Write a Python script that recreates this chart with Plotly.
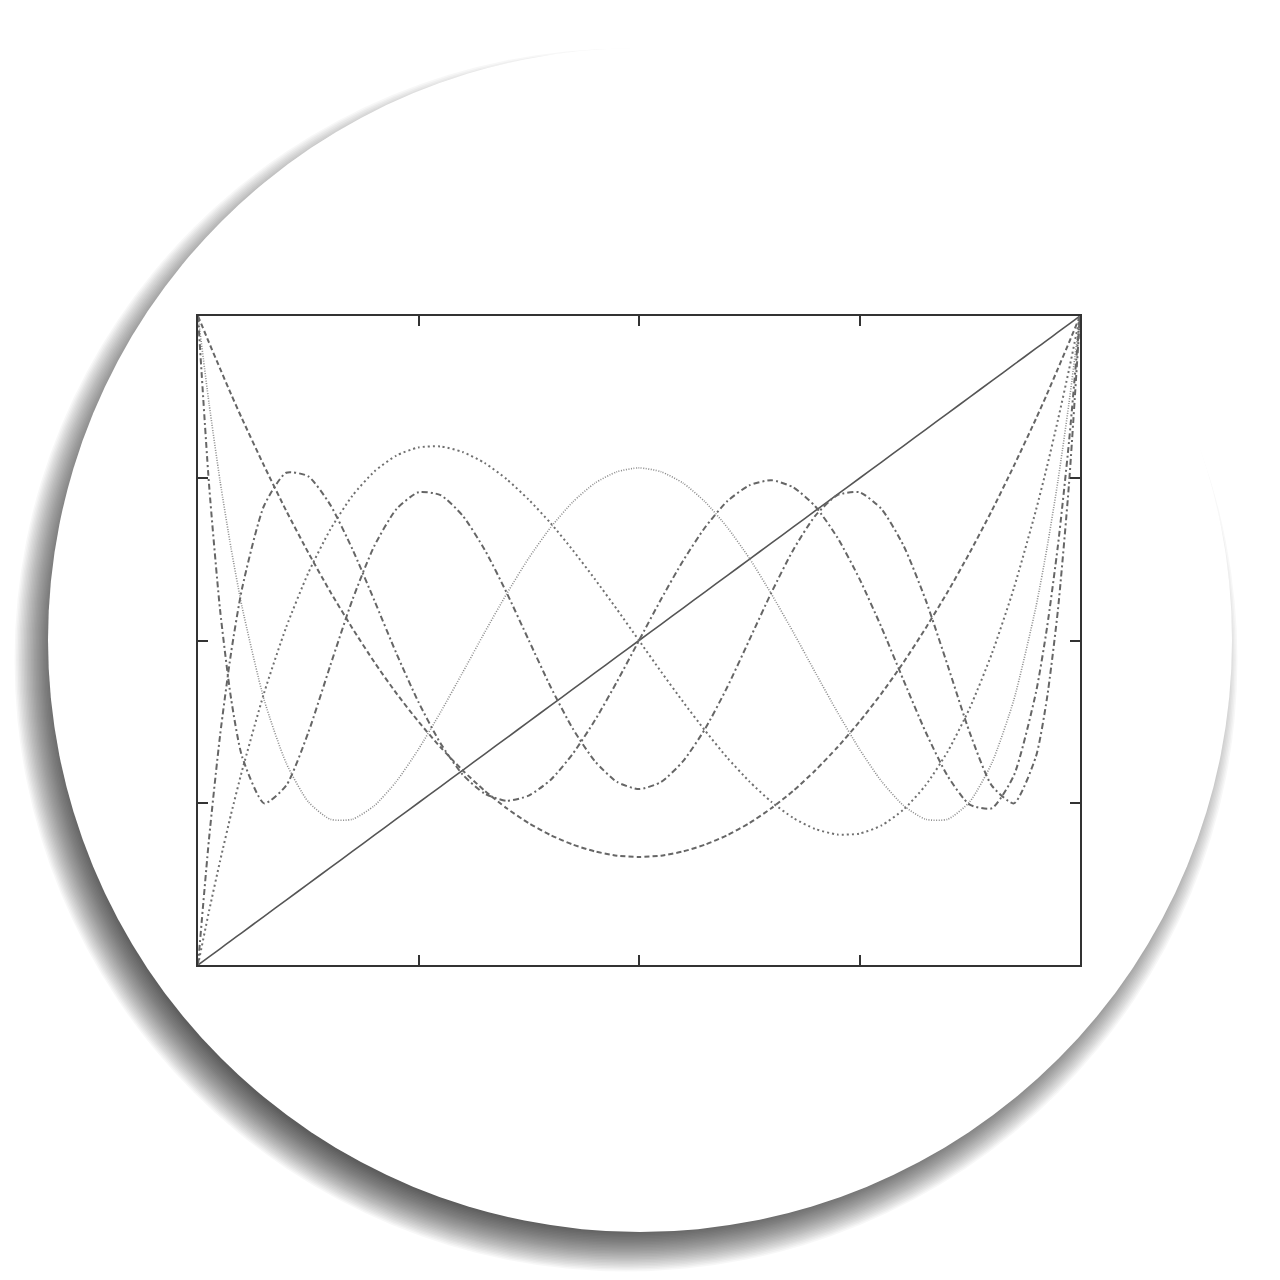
import plotly.graph_objects as go

# x sample positions (shared by every curve)
x_vals = [-1.0, -0.975, -0.95, -0.925, -0.9, -0.85, -0.8, -0.75, -0.7, -0.65, -0.6, -0.55, -0.5,
          -0.45, -0.4, -0.35, -0.3, -0.25, -0.2, -0.15, -0.1, -0.05, 0.0,
          0.05, 0.1, 0.15, 0.2, 0.25, 0.3, 0.35, 0.4, 0.45, 0.5, 0.55, 0.6, 0.65, 0.7,
          0.75, 0.8, 0.85, 0.9, 0.925, 0.95, 0.975, 1.0]

# values, for x >= 0 (index matches x_vals[22:])
p1_half = [0.0, 0.05, 0.1, 0.15, 0.2, 0.25, 0.3, 0.35, 0.4, 0.45, 0.5, 0.55, 0.6, 0.65, 0.7,
           0.75, 0.8, 0.85, 0.9, 0.925, 0.95, 0.975, 1.0]
p2_half = [-0.667, -0.663, -0.650, -0.629, -0.600, -0.563, -0.517, -0.463, -0.400, -0.329,
           -0.250, -0.163, -0.067, 0.038, 0.150, 0.271, 0.400, 0.538, 0.683, 0.759, 0.838,
           0.918, 1.0]
p3_half = [0.0, -0.096, -0.189, -0.278, -0.361, -0.434, -0.497, -0.547, -0.581, -0.598,
           -0.595, -0.570, -0.521, -0.446, -0.342, -0.208, -0.041, 0.161, 0.401, 0.535,
           0.680, 0.834, 1.0]
p4_half = [0.532, 0.520, 0.485, 0.427, 0.349, 0.254, 0.144, 0.025, -0.099, -0.221,
           -0.335, -0.434, -0.509, -0.551, -0.551, -0.497, -0.378, -0.183, 0.103, 0.284,
           0.492, 0.731, 1.0]
p5_half = [0.0, 0.127, 0.246, 0.349, 0.429, 0.478, 0.494, 0.472, 0.413, 0.317,
           0.190, 0.040, -0.123, -0.282, -0.418, -0.506, -0.517, -0.416, -0.161, 0.038,
           0.293, 0.611, 1.0]
p6_half = [-0.458, -0.436, -0.372, -0.272, -0.144, 0.001, 0.147, 0.280, 0.385, 0.448,
           0.457, 0.405, 0.292, 0.125, -0.077, -0.284, -0.447, -0.502, -0.358, -0.179,
           0.095, 0.481, 1.0]


def full(half, odd):
    neg = [(-v if odd else v) for v in reversed(half[1:])]
    return neg + half


p1 = full(p1_half, True)
p2 = full(p2_half, False)
p3 = full(p3_half, True)
p4 = full(p4_half, False)
p5 = full(p5_half, True)
p6 = full(p6_half, False)

series = [
    (p1, "#555555", 1.6, "solid"),
    (p2, "#666666", 2.0, "5px,3px"),
    (p3, "#707070", 2.0, "2px,3px"),
    (p4, "#8c8c8c", 1.6, "1px,1.5px"),
    (p5, "#666666", 2.0, "6px,3px,2px,3px"),
    (p6, "#666666", 2.0, "6px,3px,2px,3px"),
]

fig = go.Figure()
for ys, col, w, dash in series:
    fig.add_trace(go.Scatter(x=x_vals, y=ys, mode="lines",
                             line=dict(color=col, width=w, dash=dash, shape="spline", smoothing=0.6),
                             showlegend=False, hoverinfo="skip"))

# page offset of the figure inside the browser page
OFF = 8
# plot area in figure pixels
L, R, T, B = 198 - OFF, 1080 - OFF, 316 - OFF, 965 - OFF
W, H = R - L, B - T


def px(xp):
    return (xp - OFF - L) / W


def py(yp):
    return (B - (yp - OFF)) / H


shapes = []
# soft shadow (offset to lower-left), built from stacked translucent discs
cx, cy, rad = 640, 640, 592
sx, sy = cx - 14, cy + 20
for k in range(42):
    rr = 550 + k * 1.5
    shapes.append(dict(type="circle", xref="paper", yref="paper", layer="below",
                       x0=px(sx - rr), x1=px(sx + rr), y0=py(sy + rr), y1=py(sy - rr),
                       fillcolor="rgba(0,0,0,0.03)", line=dict(width=0)))
shapes.append(dict(type="circle", xref="paper", yref="paper", layer="below",
                   x0=px(cx - rad), x1=px(cx + rad), y0=py(cy + rad), y1=py(cy - rad),
                   fillcolor="white", line=dict(width=0)))

fig.update_layout(
    width=1280, height=1280,
    margin=dict(l=L, r=1280 - R, t=T, b=1280 - B),
    paper_bgcolor="white", plot_bgcolor="rgba(0,0,0,0)",
    shapes=shapes,
    xaxis=dict(range=[-1, 1], showgrid=False, zeroline=False, showline=True, mirror="ticks",
               linecolor="#333333", linewidth=2, ticks="inside", ticklen=10, tickcolor="#333333",
               tickwidth=1.5, tickvals=[-0.5, 0, 0.5], showticklabels=False),
    yaxis=dict(range=[-1, 1], showgrid=False, zeroline=False, showline=True, mirror="ticks",
               linecolor="#333333", linewidth=2, ticks="inside", ticklen=10, tickcolor="#333333",
               tickwidth=1.5, tickvals=[-0.5, 0, 0.5], showticklabels=False),
)

fig.write_html("out.html")
